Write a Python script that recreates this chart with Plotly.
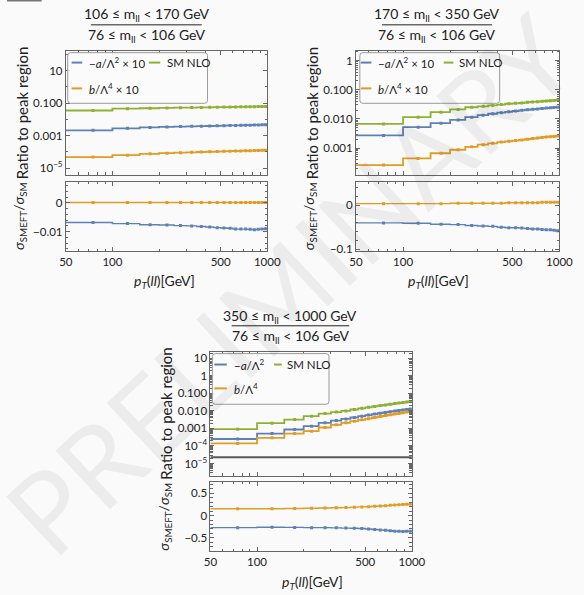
import plotly.graph_objects as go
import numpy as np

# ---------------- data ----------------
edges = [50, 100, 150, 200, 250, 300, 350, 400, 450, 500, 550, 600, 650, 700, 750, 800, 850, 900, 950, 1000]
centers = [75, 125, 175, 225, 275, 325, 375, 425, 475, 525, 575, 625, 675, 725, 775, 825, 875, 925, 975]

# panel 1 : 106 <= mll < 170
p1_sm = [0.035, 0.045, 0.048, 0.050, 0.052, 0.053, 0.054, 0.055, 0.056, 0.057, 0.057, 0.058, 0.059, 0.059, 0.060, 0.060, 0.061, 0.061, 0.062]
p1_a = [0.0021, 0.0028, 0.0032, 0.0034, 0.0036, 0.0037, 0.0038, 0.0039, 0.0040, 0.0041, 0.0042, 0.0042, 0.0043, 0.0044, 0.0044, 0.0045, 0.0045, 0.0046, 0.0047]
p1_b = [4.8e-5, 6.3e-5, 7.6e-5, 8.3e-5, 8.9e-5, 9.4e-5, 9.8e-5, 1.02e-4, 1.05e-4, 1.08e-4, 1.1e-4, 1.13e-4, 1.15e-4, 1.17e-4, 1.19e-4, 1.21e-4, 1.23e-4, 1.25e-4, 1.26e-4]
p1_ra = [-0.0068, -0.0072, -0.0076, -0.0077, -0.0079, -0.0080, -0.0082, -0.0084, -0.0086, -0.0087, -0.0088, -0.0091, -0.0091, -0.0091, -0.0092, -0.0093, -0.0092, -0.0091, -0.0090]
p1_rb = [0.0001, 0.0001, 0.0001, 0.0001, 0.0001, 0.0001, 0.0001, 0.0001, 0.0001, 0.0001, 0.0001, 0.0001, 0.0001, 0.0001, 0.0001, 0.0001, 0.0001, 0.0001, 0.0001]

# panel 2 : 170 <= mll < 350
p2_sm = [0.0067, 0.0114, 0.017, 0.021, 0.025, 0.027, 0.029, 0.031, 0.033, 0.034, 0.035, 0.037, 0.038, 0.039, 0.040, 0.041, 0.042, 0.043, 0.044]
p2_a = [0.0027, 0.0052, 0.0071, 0.0092, 0.0114, 0.0134, 0.0150, 0.0163, 0.0175, 0.0186, 0.0196, 0.0205, 0.0213, 0.0220, 0.0227, 0.0234, 0.0240, 0.0246, 0.0252]
p2_b = [2.6e-4, 4.4e-4, 6.6e-4, 8.7e-4, 1.1e-3, 1.3e-3, 1.45e-3, 1.6e-3, 1.7e-3, 1.8e-3, 1.9e-3, 2.0e-3, 2.1e-3, 2.2e-3, 2.3e-3, 2.4e-3, 2.45e-3, 2.5e-3, 2.6e-3]
p2_ra = [-0.040, -0.041, -0.043, -0.044, -0.046, -0.047, -0.048, -0.050, -0.051, -0.051, -0.052, -0.053, -0.054, -0.054, -0.055, -0.056, -0.056, -0.057, -0.058]
p2_rb = [0.004, 0.004, 0.004, 0.005, 0.005, 0.005, 0.005, 0.005, 0.006, 0.006, 0.006, 0.006, 0.006, 0.006, 0.007, 0.007, 0.007, 0.007, 0.007]

# panel 3 : 350 <= mll < 1000
p3_sm = [9.1e-4, 2.0e-3, 3.2e-3, 5.0e-3, 7.0e-3, 8.6e-3, 1.0e-2, 1.2e-2, 1.4e-2, 1.6e-2, 1.8e-2, 2.0e-2, 2.2e-2, 2.4e-2, 2.6e-2, 2.8e-2, 3.0e-2, 3.2e-2, 3.4e-2]
p3_a = [2.5e-4, 5.1e-4, 8.7e-4, 1.35e-3, 2.1e-3, 2.8e-3, 3.5e-3, 4.2e-3, 5.0e-3, 5.8e-3, 6.6e-3, 7.4e-3, 8.2e-3, 9.0e-3, 9.8e-3, 1.06e-2, 1.14e-2, 1.22e-2, 1.3e-2]
p3_b = [1.4e-4, 2.9e-4, 5.1e-4, 7.0e-4, 1.13e-3, 1.6e-3, 2.1e-3, 2.6e-3, 3.1e-3, 3.6e-3, 4.2e-3, 4.8e-3, 5.4e-3, 6.0e-3, 6.6e-3, 7.2e-3, 7.9e-3, 8.6e-3, 9.3e-3]
p3_ra = [-0.27, -0.26, -0.265, -0.27, -0.27, -0.275, -0.28, -0.285, -0.29, -0.30, -0.31, -0.32, -0.33, -0.34, -0.35, -0.35, -0.355, -0.35, -0.35]
p3_rb = [0.155, 0.155, 0.16, 0.165, 0.17, 0.175, 0.18, 0.19, 0.195, 0.20, 0.21, 0.215, 0.22, 0.23, 0.24, 0.245, 0.25, 0.255, 0.255]
p3_ref = 2.3e-5

titles_num = ["106 ≤ m<sub>ll</sub> < 170 GeV", "170 ≤ m<sub>ll</sub> < 350 GeV", "350 ≤ m<sub>ll</sub> < 1000 GeV"]
titles_den = ["76 ≤ m<sub>ll</sub> < 106 GeV"] * 3
leg_a = ["−<i>a</i>/Λ<sup>2</sup> × 10", "−<i>a</i>/Λ<sup>2</sup> × 10", "−<i>a</i>/Λ<sup>2</sup>"]
leg_b = ["<i>b</i>/Λ<sup>4</sup> × 10", "<i>b</i>/Λ<sup>4</sup> × 10", "<i>b</i>/Λ<sup>4</sup>"]
leg_sm = "SM NLO"

# ---------------- styling ----------------
W, H = 584, 595
BLUE, ORANGE, GREEN = "#5e81b5", "#e19c24", "#8fb032"
FRAME = "#666666"
FONT = "Lato"
BG = "#fafafa"


def px(x):
    return x / W


def py(y):
    return 1 - y / H


fig = go.Figure()

panels = [
    dict(x0=61, x1=270, t0=51, t1=176, b0=183, b1=253,
         sm=p1_sm, a=p1_a, b=p1_b, ra=p1_ra, rb=p1_rb,
         yr=[-5.41, 2.22], ytv=[10, 0.1, 0.001, 1e-5], ytt=["10", "0.100", "0.001", "10<sup>−5</sup>"],
         ymin=[10.0 ** k for k in range(-5, 3)],
         br=[-0.0168, 0.0073], btv=[0, -0.01], btt=["0", "−0.01"],
         bmin=list(np.round(np.arange(-0.016, 0.0071, 0.002), 4)),
         tcx=145, ty=(13, 25, 34), tline=(87, 202), xtit=(163, 283),
         leg=dict(box=(63, 208, 53, 104), l1=(67, 78, 63), t1=83, l2=(147, 159), t2=164, l3y=89)),
    dict(x0=362, x1=573, t0=51, t1=176, b0=183, b1=253,
         sm=p2_sm, a=p2_a, b=p2_b, ra=p2_ra, rb=p2_rb,
         yr=[-3.92, 0.34], ytv=[1, 0.1, 0.01, 0.001], ytt=["1", "0.100", "0.010", "0.001"],
         ymin=[m * 10.0 ** k for k in range(-4, 1) for m in range(1, 10)],
         br=[-0.105, 0.054], btv=[0, -0.1], btt=["0", "−0.1"],
         bmin=list(np.round(np.arange(-0.1, 0.051, 0.02), 3)),
         tcx=446, ty=(13, 25, 34), tline=(389, 503), xtit=(448, 283),
         leg=dict(box=(366, 511, 53, 104), l1=(367, 378, 63), t1=383, l2=(453, 463), t2=467, l3y=89)),
    dict(x0=211, x1=420, t0=354, t1=479, b0=485, b1=555,
         sm=p3_sm, a=p3_a, b=p3_b, ra=p3_ra, rb=p3_rb,
         yr=[-5.7, 1.38], ytv=[10, 1, 0.1, 0.01, 0.001, 1e-4, 1e-5],
         ytt=["10", "1", "0.100", "0.010", "0.001", "10<sup>−4</sup>", "10<sup>−5</sup>"],
         ymin=[m * 10.0 ** k for k in range(-6, 2) for m in range(1, 10)],
         br=[-0.80, 0.76], btv=[0.5, 0, -0.5], btt=["0.5", "0", "−0.5"],
         bmin=list(np.round(np.arange(-0.7, 0.71, 0.1), 2)),
         tcx=294, ty=(317, 328, 337), tline=(233, 355), xtit=(317, 586),
         leg=dict(box=(213, 334, 356, 407), l1=(215, 228, 367), t1=233, l2=(277, 285), t2=288, l3y=391)),
]

xminor = [60, 70, 80, 90, 200, 300, 400, 600, 700, 800, 900]
shapes = []
annotations = []

for i, p in enumerate(panels):
    ti = 2 * i + 1
    bi = 2 * i + 2
    xt, yt = f"x{ti}", f"y{ti}"
    xb, yb = f"x{bi}", f"y{bi}"

    def step(vals, color, xa, ya, width=1.8):
        fig.add_trace(go.Scatter(x=edges, y=list(vals) + [vals[-1]], mode="lines",
                                 line=dict(color=color, width=width, shape="hv"),
                                 xaxis=xa, yaxis=ya, showlegend=False, hoverinfo="skip"))
        fig.add_trace(go.Scatter(x=centers, y=vals, mode="markers",
                                 marker=dict(color=color, size=3, symbol="square"),
                                 xaxis=xa, yaxis=ya, showlegend=False, hoverinfo="skip"))

    if i == 2:
        fig.add_trace(go.Scatter(x=[edges[0], edges[-1]], y=[p3_ref, p3_ref], mode="lines",
                                 line=dict(color="#5a5a5a", width=2), xaxis=xt, yaxis=yt,
                                 showlegend=False, hoverinfo="skip"))
    step(p["sm"], GREEN, xt, yt)
    step(p["a"], BLUE, xt, yt)
    step(p["b"], ORANGE, xt, yt)
    step(p["rb"], ORANGE, xb, yb, 1.4)
    step(p["ra"], BLUE, xb, yb, 1.4)

    common = dict(showline=True, mirror="allticks", linecolor=FRAME, linewidth=1,
                  ticks="inside", ticklen=4, tickcolor=FRAME, showgrid=False, zeroline=False,
                  tickfont=dict(family=FONT, size=11.5, color="#222"))
    xdom = [px(p["x0"]), px(p["x1"])]
    xcommon = dict(common, type="log", range=[np.log10(50), np.log10(1000)], domain=xdom,
                   tickmode="array", tickvals=[50, 100, 500, 1000],
                   minor=dict(ticks="inside", ticklen=2.5, tickcolor=FRAME, tickmode="array", tickvals=xminor))
    fig.update_layout(**{
        f"xaxis{ti}": dict(xcommon, anchor=yt, showticklabels=False),
        f"xaxis{bi}": dict(xcommon, anchor=yb, showticklabels=True, ticktext=["50", "100", "500", "1000"]),
        f"yaxis{ti}": dict(common, type="log", range=p["yr"], anchor=xt,
                           domain=[py(p["t1"]), py(p["t0"])],
                           tickmode="array", tickvals=p["ytv"], ticktext=p["ytt"],
                           minor=dict(ticks="inside", ticklen=2.5, tickcolor=FRAME, tickmode="array", tickvals=p["ymin"])),
        f"yaxis{bi}": dict(common, range=p["br"], anchor=xb,
                           domain=[py(p["b1"]), py(p["b0"])],
                           tickmode="array", tickvals=p["btv"], ticktext=p["btt"],
                           minor=dict(ticks="inside", ticklen=2.5, tickcolor=FRAME, tickmode="array", tickvals=p["bmin"])),
    })

    # title fraction
    tfont = dict(family=FONT, size=14, color="#222")
    annotations.append(dict(x=px(p["tcx"]), y=py(p["ty"][0] + 2), xref="paper", yref="paper",
                            text=titles_num[i], showarrow=False, font=tfont, xanchor="center", yanchor="middle"))
    annotations.append(dict(x=px(p["tcx"]), y=py(p["ty"][2] + 2), xref="paper", yref="paper",
                            text=titles_den[i], showarrow=False, font=tfont, xanchor="center", yanchor="middle"))
    shapes.append(dict(type="line", xref="paper", yref="paper", x0=px(p["tline"][0]), x1=px(p["tline"][1]),
                       y0=py(p["ty"][1]), y1=py(p["ty"][1]), line=dict(color="#222", width=1)))

    # axis titles
    annotations.append(dict(x=px(p["xtit"][0]), y=py(p["xtit"][1]), xref="paper", yref="paper",
                            text="<i>p</i><sub><i>T</i></sub>(<i>ll</i>)[GeV]", showarrow=False,
                            font=dict(family=FONT, size=14, color="#222"),
                            xanchor="center", yanchor="middle"))
    annotations.append(dict(x=px(p["x0"] - 46), y=py((p["t0"] + p["t1"]) / 2), xref="paper", yref="paper",
                            text="Ratio to peak region", showarrow=False,
                            font=dict(family=FONT, size=15, color="#222"), textangle=-90,
                            xanchor="center", yanchor="middle"))
    annotations.append(dict(x=px(p["x0"] - 48), y=py((p["b0"] + p["b1"]) / 2), xref="paper", yref="paper",
                            text="<i>σ</i><sub>SMEFT</sub>/<i>σ</i><sub>SM</sub>", showarrow=False,
                            font=dict(family=FONT, size=14, color="#222"),
                            textangle=-90, xanchor="center", yanchor="middle"))

    # legend (drawn by hand with a rounded frame)
    lg = p["leg"]
    bx0, bx1, by0, by1 = lg["box"]
    r = 3
    path = (f"M {px(bx0 + r)} {py(by0)} L {px(bx1 - r)} {py(by0)} Q {px(bx1)} {py(by0)} {px(bx1)} {py(by0 + r)} "
            f"L {px(bx1)} {py(by1 - r)} Q {px(bx1)} {py(by1)} {px(bx1 - r)} {py(by1)} "
            f"L {px(bx0 + r)} {py(by1)} Q {px(bx0)} {py(by1)} {px(bx0)} {py(by1 - r)} "
            f"L {px(bx0)} {py(by0 + r)} Q {px(bx0)} {py(by0)} {px(bx0 + r)} {py(by0)} Z")
    shapes.append(dict(type="path", xref="paper", yref="paper", path=path,
                       line=dict(color="#9a9a9a", width=1), fillcolor="rgba(250,250,250,0.85)"))
    lfont = dict(family=FONT, size=11.5, color="#222")
    lx0, lx1, ly = lg["l1"]
    for (c, yy, x0, x1) in [(BLUE, ly, lx0, lx1), (GREEN, ly, lg["l2"][0], lg["l2"][1]),
                            (ORANGE, lg["l3y"], lx0, lx1)]:
        shapes.append(dict(type="line", xref="paper", yref="paper", x0=px(x0), x1=px(x1),
                           y0=py(yy), y1=py(yy), line=dict(color=c, width=2)))
    annotations.append(dict(x=px(lg["t1"]), y=py(ly), xref="paper", yref="paper", text=leg_a[i],
                            showarrow=False, font=lfont, xanchor="left", yanchor="middle"))
    annotations.append(dict(x=px(lg["t2"]), y=py(ly), xref="paper", yref="paper", text=leg_sm,
                            showarrow=False, font=lfont, xanchor="left", yanchor="middle"))
    annotations.append(dict(x=px(lg["t1"]), y=py(lg["l3y"]), xref="paper", yref="paper", text=leg_b[i],
                            showarrow=False, font=lfont, xanchor="left", yanchor="middle"))

# watermark
annotations.append(dict(x=px(292), y=py(285), xref="paper", yref="paper", text="PRELIMINARY",
                        showarrow=False, textangle=-43,
                        font=dict(family=FONT, size=112, color="rgba(0,0,0,0.055)"),
                        xanchor="center", yanchor="middle"))
# small mark at top-left corner
shapes.append(dict(type="line", xref="paper", yref="paper", x0=0, x1=px(36), y0=py(0.7), y1=py(0.7),
                   line=dict(color="#777", width=1.5)))

fig.update_layout(width=W, height=H, margin=dict(l=0, r=0, t=0, b=0),
                  paper_bgcolor=BG, plot_bgcolor=BG, showlegend=False,
                  shapes=shapes, annotations=annotations,
                  font=dict(family=FONT, size=11, color="#222"))

fig.write_html("out.html", config={"displayModeBar": False},
               post_script="document.body.style.margin='0';document.body.style.padding='0';"
                           "document.body.style.overflow='hidden';")
